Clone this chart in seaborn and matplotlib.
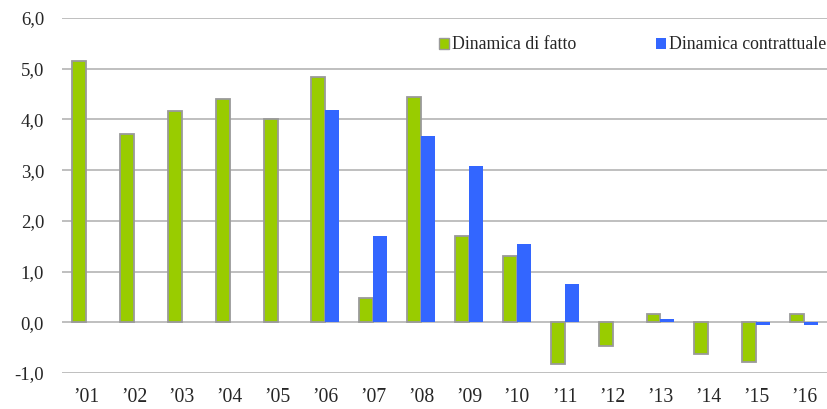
import pandas as pd
import numpy as np
import matplotlib
matplotlib.use('Agg')
import matplotlib.pyplot as plt
import seaborn as sns
from matplotlib.ticker import FuncFormatter, MultipleLocator
from matplotlib.patches import Patch

anni = ['\u201901', '\u201902', '\u201903', '\u201904', '\u201905', '\u201906', '\u201907', '\u201908',
        '\u201909', '\u201910', '\u201911', '\u201912', '\u201913', '\u201914', '\u201915', '\u201916']
di_fatto = [5.15, 3.71, 4.16, 4.40, 4.00, 4.83, 0.47, 4.44, 1.70, 1.30, -0.83, -0.47, 0.16, -0.63, -0.79, 0.16]
contrattuale = [np.nan, np.nan, np.nan, np.nan, np.nan, 4.18, 1.70, 3.67, 3.08, 1.54, 0.75, 0.01, 0.06, 0.01, -0.05, -0.05]
serie = ['Dinamica di fatto', 'Dinamica contrattuale']
colori = ['#99CC00', '#3366FF']

df = pd.concat([
    pd.DataFrame({'anno': anni, 'valore': di_fatto, 'serie': serie[0]}),
    pd.DataFrame({'anno': anni, 'valore': contrattuale, 'serie': serie[1]}),
], ignore_index=True)

sns.set_style('white')
plt.rcParams['font.family'] = ['Liberation Serif', 'DejaVu Serif']

fig, ax = plt.subplots(figsize=(8.28, 4.09), dpi=100)
fig.subplots_adjust(left=0.075, right=1.0, top=0.956, bottom=0.088)

sns.barplot(data=df, x='anno', y='valore', hue='serie', hue_order=serie, order=anni,
            palette=colori, width=0.58, saturation=1, ax=ax, legend=False)

# green bars have grey outline, blue ones none
for bar in ax.containers[0]:
    bar.set_edgecolor('#9A9A9A')
    bar.set_linewidth(1.3)
for bar in ax.containers[1]:
    bar.set_edgecolor('none')

ax.set_ylim(-1, 6)
ax.set_xlim(-0.5, 15.5)
ax.yaxis.set_major_locator(MultipleLocator(1))
ax.yaxis.set_major_formatter(FuncFormatter(lambda v, p: f'{v:.1f}'.replace('.', ',')))
ax.grid(axis='y', color='#BFBFBF', linewidth=1.4)
ax.set_axisbelow(True)
for s in ax.spines.values():
    s.set_visible(False)
ax.tick_params(axis='y', length=0, pad=13, labelsize=13.5)
ax.tick_params(axis='x', length=0, pad=11, labelsize=14.2)
ax.set_xlabel('')
ax.set_ylabel('')

handles = [Patch(facecolor=colori[0], edgecolor='#9A9A9A', linewidth=1),
           Patch(facecolor=colori[1], edgecolor='none')]
ax.legend(handles, serie, loc='center right', bbox_to_anchor=(1.018, 0.924), ncol=2,
          frameon=False, fontsize=12.8, handlelength=0.55, handleheight=0.55,
          handletextpad=0.15, columnspacing=4.5)

fig.savefig('out.png', dpi=100)
